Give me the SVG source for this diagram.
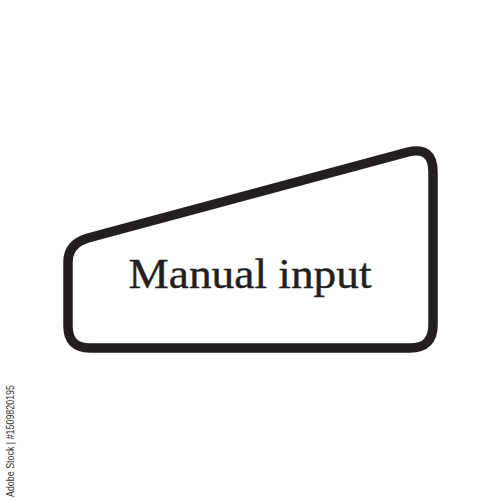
<svg xmlns="http://www.w3.org/2000/svg" width="500" height="500" viewBox="0 0 500 500">
<style>
.shape{fill:#fff;stroke:#231f20;stroke-width:9.5;stroke-linejoin:round}
.lbl{font-family:"Liberation Serif","Times New Roman",serif;font-size:42px;fill:#231f20;stroke:#231f20;stroke-width:0.4}
.side{font-family:"Liberation Sans",Arial,sans-serif;font-size:10.5px;fill:#333}
</style>
<rect width="500" height="500" fill="#fff"/>
<g id="manual-input">
<path class="shape" d="M68,262 Q68,244 88,238 L408,152 Q433,146 433,172 L433,325 Q433,348 410,348 L90,348 Q68,348 68,326 Z"/>
<text class="lbl" x="250" y="288" text-anchor="middle" textLength="243" lengthAdjust="spacingAndGlyphs">Manual input</text>
</g>
<g id="connectors"/>
<text class="side" transform="translate(14,497) rotate(-90)" textLength="112" lengthAdjust="spacingAndGlyphs">Adobe Stock | #1509820195</text>
</svg>
